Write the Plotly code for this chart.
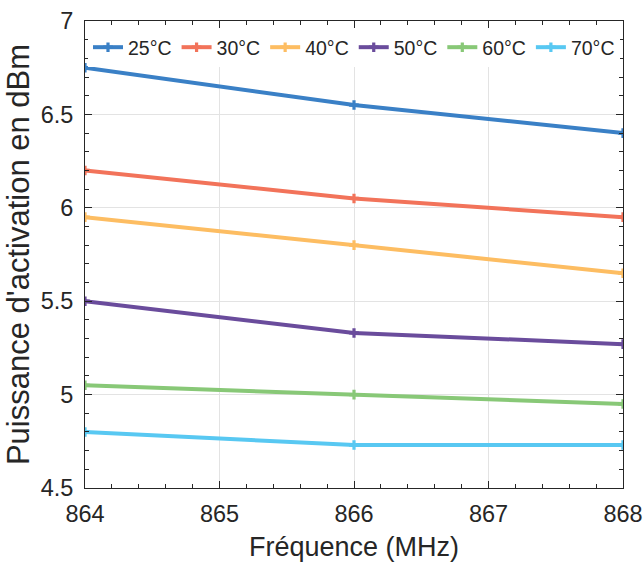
import plotly.graph_objects as go

freq = [864, 866, 868]
series_names = ["25°C", "30°C", "40°C", "50°C", "60°C", "70°C"]
p25 = [6.75, 6.55, 6.40]
p30 = [6.20, 6.05, 5.95]
p40 = [5.95, 5.80, 5.65]
p50 = [5.50, 5.33, 5.27]
p60 = [5.05, 5.00, 4.95]
p70 = [4.80, 4.73, 4.73]
series_values = [p25, p30, p40, p50, p60, p70]
colors = ["#3a80c6", "#f2735a", "#fdbd62", "#6a4c9c", "#88c877", "#58c8f2"]

FONT = "Liberation Sans, Arial, Helvetica"
TXT = "#262626"

fig = go.Figure()
for name, vals, c in zip(series_names, series_values, colors):
    fig.add_trace(go.Scatter(
        x=freq, y=vals, name=name, mode="lines+markers",
        line=dict(color=c, width=4),
        marker=dict(symbol="cross", size=8, color=c),
    ))

axis_common = dict(
    showline=True, linecolor=TXT, linewidth=1, mirror="ticks",
    ticks="inside", ticklen=7, tickcolor=TXT,
    showgrid=True, gridcolor="#e3e3e3", gridwidth=1,
    zeroline=False, automargin=False,
    tickfont=dict(family=FONT, size=23.5, color=TXT),
    ticklabeloverflow="allow",
)

fig.update_xaxes(
    range=[864, 868], tickvals=[864, 865, 866, 867, 868],
    ticktext=["864", "865", "866", "867", "868"],
    minor=dict(dtick=0.2, ticks="inside", ticklen=4, tickcolor=TXT, showgrid=False),
    title=dict(text="Fréquence (MHz)", font=dict(family=FONT, size=27, color=TXT), standoff=10),
    ticklabelstandoff=5,
    **axis_common,
)
fig.update_yaxes(
    range=[4.5, 7], tickvals=[4.5, 5, 5.5, 6, 6.5, 7],
    ticktext=["4.5", "5", "5.5", "6", "6.5", "7"],
    minor=dict(dtick=0.1, ticks="inside", ticklen=4, tickcolor=TXT, showgrid=False),
    title=dict(text="Puissance d'activation en dBm", font=dict(family=FONT, size=31, color=TXT), standoff=1),
    ticklabelstandoff=6,
    **axis_common,
)

fig.update_layout(
    width=643, height=570,
    margin=dict(l=85, r=20, t=21, b=82),
    paper_bgcolor="white", plot_bgcolor="white",
    showlegend=True,
    legend=dict(
        orientation="h", x=0.5, xanchor="center", y=0.985, yanchor="top",
        bgcolor="white", borderwidth=0,
        font=dict(family=FONT, size=19.5, color=TXT),
        itemwidth=30, tracegroupgap=0,
    ),
)

fig.write_html("out.html", config={"displayModeBar": False},
               post_script="document.body.style.margin='0';")
